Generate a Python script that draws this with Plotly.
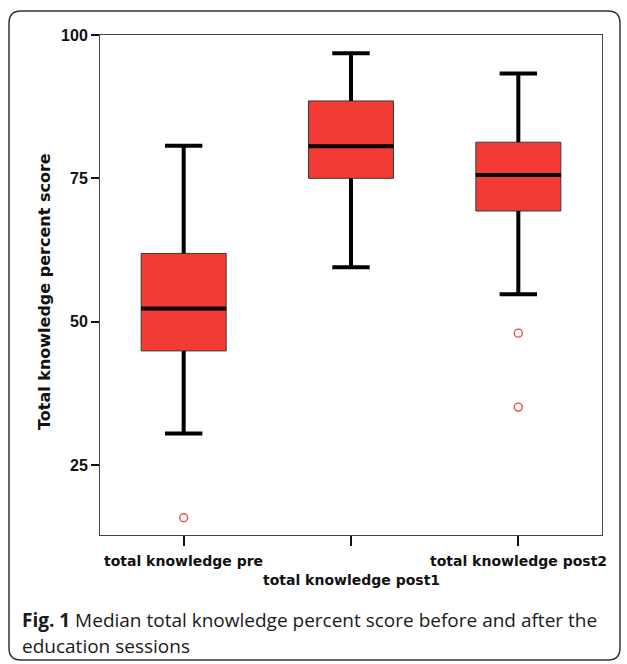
import plotly.graph_objects as go

# Box-plot summary statistics (percent scores)
categories = ["total knowledge pre", "total knowledge post1", "total knowledge post2"]
lower_whisker = [30.5, 59.5, 54.8]
q1 = [44.9, 75.0, 69.3]
median = [52.3, 80.6, 75.6]
q3 = [61.9, 88.5, 81.3]
upper_whisker = [80.7, 96.8, 93.3]
outlier_values = [[15.8], [], [48.0, 35.1]]
y_ticks = [25, 50, 75, 100]

positions = list(range(len(categories)))
BOX_W = 0.508
CAP_W = 0.44 * BOX_W
FILL = "#f43a35"
W, H = 627, 664
M = dict(l=100, r=25, t=35, b=129)
PW = W - M["l"] - M["r"]
PH = H - M["t"] - M["b"]

fig = go.Figure()

# filled boxes with a thin outline
fig.add_trace(go.Box(
    x=positions, q1=q1, median=median, q3=q3,
    lowerfence=lower_whisker, upperfence=upper_whisker,
    width=BOX_W, whiskerwidth=0, fillcolor=FILL,
    line=dict(color="#3a3a3a", width=1), boxpoints=False,
    hoverinfo="skip", showlegend=False,
))

# heavy whiskers, caps and medians
wx, wy = [], []
for p, lo, a, b, hi in zip(positions, lower_whisker, q1, q3, upper_whisker):
    wx += [p, p, None, p, p, None,
           p - CAP_W / 2, p + CAP_W / 2, None, p - CAP_W / 2, p + CAP_W / 2, None]
    wy += [b, hi, None, lo, a, None, hi, hi, None, lo, lo, None]
fig.add_trace(go.Scatter(x=wx, y=wy, mode="lines", line=dict(color="black", width=4),
                         hoverinfo="skip", showlegend=False))

mx, my = [], []
for p, m in zip(positions, median):
    mx += [p - BOX_W / 2, p + BOX_W / 2, None]
    my += [m, m, None]
fig.add_trace(go.Scatter(x=mx, y=my, mode="lines", line=dict(color="black", width=4),
                         hoverinfo="skip", showlegend=False))

# outliers
ox, oy = [], []
for p, vals in zip(positions, outlier_values):
    for v in vals:
        ox.append(p)
        oy.append(v)
fig.add_trace(go.Scatter(x=ox, y=oy, mode="markers",
                         marker=dict(symbol="circle-open", size=8, color="#f04848",
                                     line=dict(width=1.4, color="#f04848")),
                         hoverinfo="skip", showlegend=False))

label_font = dict(family="DejaVu Sans", size=14, color="#111", weight="bold")
annotations = []
for i, (p, name) in enumerate(zip(positions, categories)):
    annotations.append(dict(
        x=p, y=(-26 if i % 2 == 0 else -45) / PH, xref="x", yref="paper",
        text=name, showarrow=False, font=label_font,
        xanchor="center", yanchor="middle",
    ))

annotations.append(dict(
    x=(44 - M["l"]) / PW, y=(PH - (292 - M["t"])) / PH, xref="paper", yref="paper",
    text="Total knowledge percent score", textangle=-90, showarrow=False,
    font=dict(family="DejaVu Sans", size=16, color="#111", weight="bold"),
    xanchor="center", yanchor="middle",
))

cap_font = dict(family="Open Sans", size=19, color="#1a1a1a")
annotations.append(dict(
    x=(20 - M["l"]) / PW, y=(PH - (620 - M["t"])) / PH, xref="paper", yref="paper",
    text="<b>Fig. 1</b> Median total knowledge percent score before and after the",
    showarrow=False, font=cap_font, xanchor="left", yanchor="middle", align="left",
))
annotations.append(dict(
    x=(20 - M["l"]) / PW, y=(PH - (646 - M["t"])) / PH, xref="paper", yref="paper",
    text="education sessions",
    showarrow=False, font=cap_font, xanchor="left", yanchor="middle", align="left",
))

# rounded frame around the whole figure (pixel values converted to paper units)
def px(xp):
    return (xp - M["l"]) / PW

def py(yp):
    return (PH - (yp - M["t"])) / PH

x0, y0, x1, y1, r = 9, 11, 620, 660, 12
path = (
    f"M {px(x0 + r)},{py(y0)} L {px(x1 - r)},{py(y0)} "
    f"Q {px(x1)},{py(y0)} {px(x1)},{py(y0 + r)} "
    f"L {px(x1)},{py(y1 - r)} Q {px(x1)},{py(y1)} {px(x1 - r)},{py(y1)} "
    f"L {px(x0 + r)},{py(y1)} Q {px(x0)},{py(y1)} {px(x0)},{py(y1 - r)} "
    f"L {px(x0)},{py(y0 + r)} Q {px(x0)},{py(y0)} {px(x0 + r)},{py(y0)} Z"
)

fig.update_layout(
    width=W, height=H, margin=M,
    paper_bgcolor="white", plot_bgcolor="white",
    annotations=annotations,
    shapes=[dict(type="path", path=path, xref="paper", yref="paper",
                 line=dict(color="#333", width=1.5), layer="below")],
    xaxis=dict(range=[-0.5, 2.5], tickvals=positions, ticktext=["", "", ""],
               ticks="outside", ticklen=10, tickwidth=2, tickcolor="#111",
               showgrid=False, zeroline=False, showline=True, linecolor="#444",
               linewidth=1, mirror=True, fixedrange=True),
    yaxis=dict(range=[12.79, 100], tickvals=y_ticks, ticks="outside", ticklen=8,
               tickwidth=2, tickcolor="#111", showgrid=False, zeroline=False,
               showline=True, linecolor="#444", linewidth=1, mirror=True,
               tickfont=dict(family="Liberation Sans Narrow, Arial Narrow, Liberation Sans",
                             size=16, color="#111", weight="bold"),
               fixedrange=True),
)

fig.write_html("out.html", config={"displayModeBar": False})
